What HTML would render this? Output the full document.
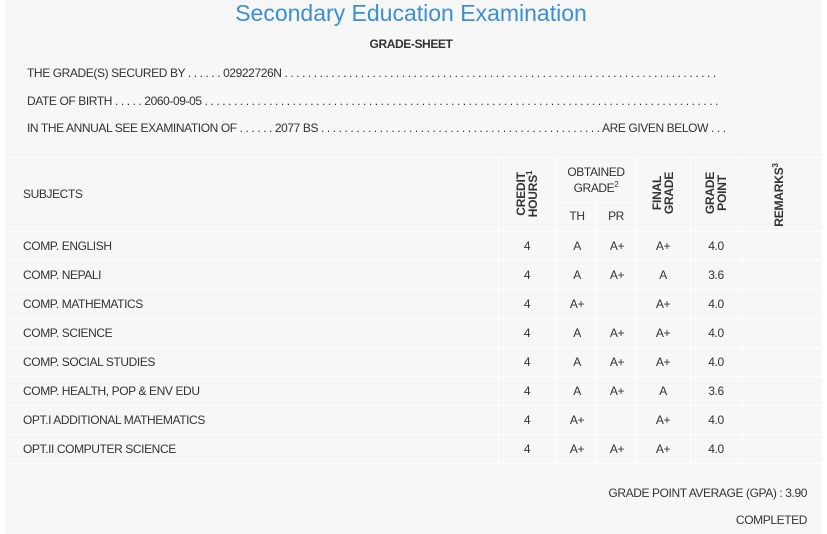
<!DOCTYPE html>
<html><head><style>
*{margin:0;padding:0;box-sizing:border-box}
body{width:827px;height:534px;background:#fff;position:relative;overflow:hidden;font-family:"Liberation Sans",sans-serif;color:#333}
#p{position:absolute;left:5px;top:0;width:817px;height:534px;background:#f7f7f7}
.t{position:absolute;font-size:12px;white-space:nowrap;letter-spacing:-0.4px;line-height:14px}
.c{text-align:center;transform:translateX(-50%)}
.h{position:absolute;height:1px;background:#fff}
.v{position:absolute;width:1px;background:#fff}
.r{position:absolute;font-size:12px;font-weight:bold;line-height:12px;text-align:center;transform:translate(-50%,-50%) rotate(-90deg);white-space:nowrap;letter-spacing:-0.2px}
sup{font-size:8px;vertical-align:5px;line-height:0}
</style></head><body>
<div id="p"></div>
<div class="t c" style="left:411px;top:0px;font-size:23px;line-height:26px;color:#3b8fd6;letter-spacing:0">Secondary Education Examination</div>
<div class="t c" style="left:411px;top:37px;font-weight:bold">GRADE-SHEET</div>
<div class="t" style="left:27px;top:66px">THE GRADE(S) SECURED BY . . . . . . 02922726N . . . . . . . . . . . . . . . . . . . . . . . . . . . . . . . . . . . . . . . . . . . . . . . . . . . . . . . . . . . . . . . . . . . . . . . . . .</div>
<div class="t" style="left:27px;top:94px">DATE OF BIRTH . . . . . 2060-09-05 . . . . . . . . . . . . . . . . . . . . . . . . . . . . . . . . . . . . . . . . . . . . . . . . . . . . . . . . . . . . . . . . . . . . . . . . . . . . . . . . . . . . . . . .</div>
<div class="t" style="left:27px;top:121px">IN THE ANNUAL SEE EXAMINATION OF . . . . . . 2077 BS . . . . . . . . . . . . . . . . . . . . . . . . . . . . . . . . . . . . . . . . . . . . . . . . ARE GIVEN BELOW . . .</div>

<div class="h" style="left:5px;top:157px;width:817px"></div>
<div class="h" style="left:557px;top:202px;width:78px"></div>
<div class="h" style="left:5px;top:231px;width:817px"></div>
<div class="h" style="left:5px;top:260px;width:817px"></div>
<div class="h" style="left:5px;top:289px;width:817px"></div>
<div class="h" style="left:5px;top:318px;width:817px"></div>
<div class="h" style="left:5px;top:347px;width:817px"></div>
<div class="h" style="left:5px;top:376px;width:817px"></div>
<div class="h" style="left:5px;top:405px;width:817px"></div>
<div class="h" style="left:5px;top:434px;width:817px"></div>
<div class="h" style="left:5px;top:463px;width:817px"></div>
<div class="v" style="left:498px;top:157px;height:306px"></div>
<div class="v" style="left:556px;top:157px;height:306px"></div>
<div class="v" style="left:596px;top:202px;height:261px"></div>
<div class="v" style="left:635px;top:157px;height:306px"></div>
<div class="v" style="left:690px;top:157px;height:306px"></div>
<div class="v" style="left:742px;top:157px;height:306px"></div>

<div class="t" style="left:23px;top:187px">SUBJECTS</div>
<div class="r" style="left:527px;top:194px">CREDIT<br>HOURS<sup>1</sup></div>
<div class="t c" style="left:596px;top:164px;line-height:16px">OBTAINED<br>GRADE<sup>2</sup></div>
<div class="t c" style="left:577px;top:209px">TH</div>
<div class="t c" style="left:616px;top:209px">PR</div>
<div class="r" style="left:663px;top:193px">FINAL<br>GRADE</div>
<div class="r" style="left:716px;top:193px">GRADE<br>POINT</div>
<div class="r" style="left:779px;top:195px">REMARKS<sup>3</sup></div>

<div class="t" style="left:23px;top:239px">COMP. ENGLISH</div>
<div class="t" style="left:23px;top:268px">COMP. NEPALI</div>
<div class="t" style="left:23px;top:297px">COMP. MATHEMATICS</div>
<div class="t" style="left:23px;top:326px">COMP. SCIENCE</div>
<div class="t" style="left:23px;top:355px">COMP. SOCIAL STUDIES</div>
<div class="t" style="left:23px;top:384px">COMP. HEALTH, POP &amp; ENV EDU</div>
<div class="t" style="left:23px;top:413px">OPT.I ADDITIONAL MATHEMATICS</div>
<div class="t" style="left:23px;top:442px">OPT.II COMPUTER SCIENCE</div>

<div style="position:absolute;left:0;top:239px">
<div class="t c" style="left:527px;top:0">4</div><div class="t c" style="left:577px;top:0">A</div><div class="t c" style="left:617px;top:0">A+</div><div class="t c" style="left:663px;top:0">A+</div><div class="t c" style="left:716px;top:0">4.0</div>
<div class="t c" style="left:527px;top:29px">4</div><div class="t c" style="left:577px;top:29px">A</div><div class="t c" style="left:617px;top:29px">A+</div><div class="t c" style="left:663px;top:29px">A</div><div class="t c" style="left:716px;top:29px">3.6</div>
<div class="t c" style="left:527px;top:58px">4</div><div class="t c" style="left:577px;top:58px">A+</div><div class="t c" style="left:663px;top:58px">A+</div><div class="t c" style="left:716px;top:58px">4.0</div>
<div class="t c" style="left:527px;top:87px">4</div><div class="t c" style="left:577px;top:87px">A</div><div class="t c" style="left:617px;top:87px">A+</div><div class="t c" style="left:663px;top:87px">A+</div><div class="t c" style="left:716px;top:87px">4.0</div>
<div class="t c" style="left:527px;top:116px">4</div><div class="t c" style="left:577px;top:116px">A</div><div class="t c" style="left:617px;top:116px">A+</div><div class="t c" style="left:663px;top:116px">A+</div><div class="t c" style="left:716px;top:116px">4.0</div>
<div class="t c" style="left:527px;top:145px">4</div><div class="t c" style="left:577px;top:145px">A</div><div class="t c" style="left:617px;top:145px">A+</div><div class="t c" style="left:663px;top:145px">A</div><div class="t c" style="left:716px;top:145px">3.6</div>
<div class="t c" style="left:527px;top:174px">4</div><div class="t c" style="left:577px;top:174px">A+</div><div class="t c" style="left:663px;top:174px">A+</div><div class="t c" style="left:716px;top:174px">4.0</div>
<div class="t c" style="left:527px;top:203px">4</div><div class="t c" style="left:577px;top:203px">A+</div><div class="t c" style="left:617px;top:203px">A+</div><div class="t c" style="left:663px;top:203px">A+</div><div class="t c" style="left:716px;top:203px">4.0</div>
</div>

<div class="t" style="right:20px;top:486px">GRADE POINT AVERAGE (GPA) : 3.90</div>
<div class="t" style="right:20px;top:513px">COMPLETED</div>
</body></html>
